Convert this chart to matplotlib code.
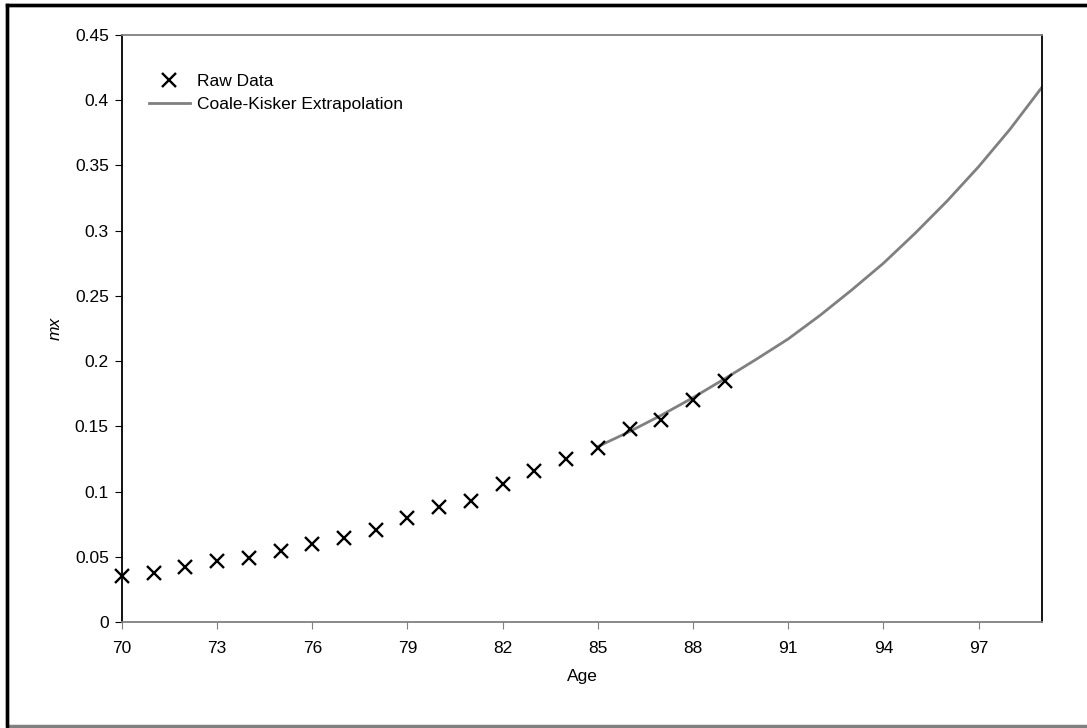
from matplotlib import pyplot as plt
from matplotlib.patches import Rectangle

plt.rcParams['font.family'] = ['Liberation Sans', 'DejaVu Sans']

# raw death rates
ages = [70, 71, 72, 73, 74, 75, 76, 77, 78, 79,
        80, 81, 82, 83, 84, 85, 86, 87, 88, 89]
mx_raw = [0.035, 0.0378, 0.0425, 0.0468, 0.049, 0.0548, 0.0600, 0.0645, 0.0708, 0.0800,
          0.0885, 0.0930, 0.1055, 0.1160, 0.1252, 0.1335, 0.1478, 0.1550, 0.1703, 0.1848]

# Coale-Kisker extrapolated curve
ck_ages = [85, 86, 87, 88, 89, 90, 91, 92, 93, 94, 95, 96, 97, 98, 99]
mx_ck = [0.1345, 0.1460, 0.1585, 0.1720, 0.1865, 0.2015, 0.2170, 0.2350, 0.2545, 0.2750,
         0.2980, 0.3225, 0.3490, 0.3780, 0.4100]

x_ticks = [70, 73, 76, 79, 82, 85, 88, 91, 94, 97]
y_ticks = [0, 0.05, 0.1, 0.15, 0.2, 0.25, 0.3, 0.35, 0.4, 0.45]
y_labels = ['0', '0.05', '0.1', '0.15', '0.2', '0.25', '0.3', '0.35', '0.4', '0.45']

fs = 12.5

fig = plt.figure(figsize=(10.87, 7.28), dpi=100)
ax = fig.add_axes([0.1122, 0.1456, 0.8464, 0.8063])

# outer frame of the chart
fig.patches.append(Rectangle((0.0065, 0.0027), 1.2, 0.99, transform=fig.transFigure,
                             fill=False, edgecolor='#808080', linewidth=2.5))
fig.add_artist(plt.Line2D([0.0065, 1.0], [0.993, 0.993], transform=fig.transFigure,
                          color='black', linewidth=2.5))
fig.add_artist(plt.Line2D([0.0065, 0.0065], [0.0027, 0.993], transform=fig.transFigure,
                          color='black', linewidth=2.5))

ax.plot(ck_ages, mx_ck, color='#808080', linewidth=2, label='Coale-Kisker Extrapolation', zorder=2)
ax.plot(ages, mx_raw, linestyle='', marker='x', markersize=10.5, markeredgewidth=1.7,
        color='black', label='Raw Data', zorder=3, clip_on=False)

ax.set_xlim(70, 99)
ax.set_ylim(0, 0.45)
ax.set_xticks(x_ticks)
ax.set_yticks(y_ticks)
ax.set_yticklabels(y_labels)
ax.tick_params(axis='both', labelsize=fs, direction='out', length=5)
ax.tick_params(axis='x', color='#808080', pad=9)
ax.tick_params(axis='y', color='black', pad=4.5)

ax.spines['left'].set_color('black')
ax.spines['right'].set_color('black')
ax.spines['top'].set_color('#808080')
ax.spines['bottom'].set_color('#808080')
for s in ax.spines.values():
    s.set_linewidth(1.3)

ax.set_xlabel('Age', fontsize=fs, labelpad=9)
ax.set_ylabel('mx', fontsize=fs, style='italic', labelpad=9)

handles, labels = ax.get_legend_handles_labels()
ax.legend(handles[::-1], labels[::-1], loc='upper left', frameon=False, fontsize=fs,
          bbox_to_anchor=(0.012, 0.96), handlelength=2.4, handletextpad=0.4,
          labelspacing=0.45)

fig.savefig('out.png', dpi=100)
